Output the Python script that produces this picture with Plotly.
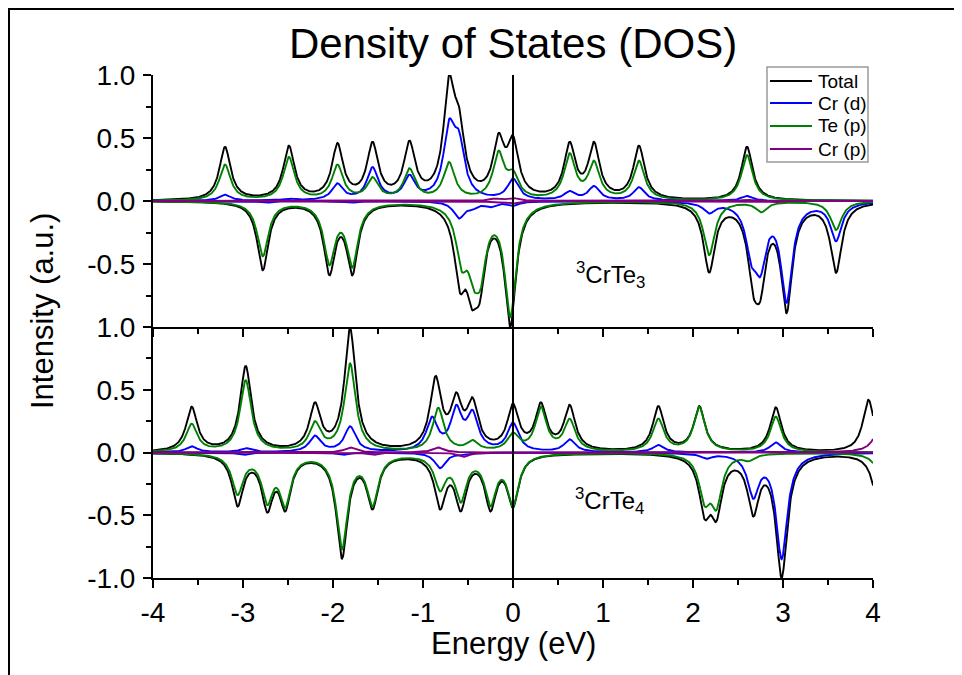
import numpy as np
import plotly.graph_objects as go

# ---------------- data (peak energies in eV, curve values read at the peaks) ----------------
# 3CrTe3 (upper panel)
E3_tot_up = [-3.20, -2.49, -1.95, -1.56, -1.15, -0.71, -0.60, -0.16, 0.00, 0.63, 0.90, 1.40, 2.60]
I3_tot_up = [0.43, 0.44, 0.46, 0.47, 0.48, 1.00, 0.75, 0.54, 0.52, 0.47, 0.47, 0.44, 0.43]
E3_tot_dn = [-2.78, -2.04, -1.785, -0.59, -0.46, -0.37, -0.03, 2.18, 2.67, 2.75, 3.04, 3.59]
I3_tot_dn = [-0.55, -0.59, -0.59, -0.73, -0.86, -0.81, -1.00, -0.57, -0.76, -0.79, -0.89, -0.57]
E3_crd_up = [-3.20, -2.49, -1.95, -1.56, -1.15, -0.71, -0.60, 0.00, 0.63, 0.90, 1.40, 2.60]
I3_crd_up = [0.05, 0.02, 0.14, 0.27, 0.21, 0.65, 0.56, 0.18, 0.08, 0.12, 0.11, 0.04]
E3_crd_dn = [-2.75, -1.80, -0.60, -0.45, -0.25, 0.00, 2.18, 2.65, 2.75, 3.04, 3.59]
I3_crd_dn = [-0.015, -0.015, -0.14, -0.07, -0.05, -0.04, -0.10, -0.52, -0.60, -0.81, -0.32]
E3_tep_up = [-3.20, -2.49, -1.95, -1.56, -1.15, -0.71, -0.16, 0.00, 0.63, 0.90, 1.40, 2.60]
I3_tep_up = [0.29, 0.35, 0.29, 0.19, 0.26, 0.31, 0.40, 0.25, 0.38, 0.32, 0.32, 0.365]
E3_tep_dn = [-2.78, -2.04, -1.785, -0.57, -0.44, -0.36, -0.03, 2.18, 2.76, 3.59]
I3_tep_dn = [-0.44, -0.51, -0.53, -0.56, -0.71, -0.70, -0.92, -0.43, -0.09, -0.23]
E3_crp_up = [-0.20, 0.00, 2.60]
I3_crp_up = [0.02, 0.025, 0.01]
E3_crp_dn = [-0.20, 0.00, 2.90]
I3_crp_dn = [-0.015, -0.02, -0.01]

# 3CrTe4 (lower panel)
E4_tot_up = [-3.57, -2.97, -2.20, -1.81, -0.86, -0.63, -0.45, 0.00, 0.31, 0.63, 1.615, 2.07, 2.92, 3.95]
I4_tot_up = [0.365, 0.69, 0.40, 0.99, 0.61, 0.48, 0.44, 0.39, 0.40, 0.38, 0.37, 0.37, 0.36, 0.42]
E4_tot_dn = [-3.06, -2.73, -2.53, -1.90, -1.56, -0.81, -0.58, -0.25, 0.00, 2.13, 2.26, 2.67, 2.985, 4.08]
I4_tot_dn = [-0.43, -0.48, -0.47, -0.845, -0.455, -0.455, -0.47, -0.47, -0.44, -0.535, -0.55, -0.51, -1.00, -0.55]
E4_crd_up = [-3.57, -2.97, -2.20, -1.81, -0.90, -0.63, -0.45, 0.00, 0.63, 1.615, 2.92]
I4_crd_up = [0.05, 0.035, 0.135, 0.21, 0.286, 0.38, 0.34, 0.24, 0.105, 0.06, 0.08]
E4_crd_dn = [-3.00, -1.90, -0.81, -0.55, 2.15, 2.67, 2.985]
I4_crd_dn = [-0.02, -0.02, -0.125, -0.02, -0.05, -0.37, -0.85]
E4_tep_up = [-3.57, -2.97, -2.20, -1.81, -0.83, -0.45, 0.00, 0.31, 0.63, 1.615, 2.07, 2.92]
I4_tep_up = [0.23, 0.577, 0.25, 0.71, 0.357, 0.10, 0.16, 0.365, 0.27, 0.27, 0.365, 0.286]
E4_tep_dn = [-3.06, -2.73, -2.53, -1.90, -1.56, -0.81, -0.58, -0.25, 0.00, 2.13, 2.26, 2.62, 4.12]
I4_tep_dn = [-0.34, -0.42, -0.44, -0.77, -0.43, -0.31, -0.40, -0.43, -0.43, -0.43, -0.46, -0.07, -0.30]
E4_crp_up = [-1.81, -0.83, 4.10]
I4_crp_up = [0.04, 0.04, 0.30]
E4_crp_dn = [-1.56, -0.55]
I4_crp_dn = [-0.02, -0.035]

series_names = ["Total", "Cr (d)", "Te (p)", "Cr (p)"]
x_tick_vals = [-4, -3, -2, -1, 0, 1, 2, 3, 4]
x_tick_text = ["-4", "-3", "-2", "-1", "0", "1", "2", "3", "4"]
y_tick_vals = [-1.0, -0.5, 0.0, 0.5, 1.0]
y_tick_text = ["-1.0", "-0.5", "0.0", "0.5", "1.0"]
panel_labels = ["<sup>3</sup>CrTe<sub>3</sub>", "<sup>3</sup>CrTe<sub>4</sub>"]

# ---------------- broadening of the read peaks onto an energy grid ----------------
energy = np.linspace(-4.0, 4.0, 1601)
GAMMA = 0.075


def broaden(centers, values, gamma=GAMMA):
    c = np.asarray(centers, float)
    v = np.asarray(values, float)
    K = 1.0 / (1.0 + ((c[:, None] - c[None, :]) / gamma) ** 2)
    t = np.abs(v)
    a = t.copy()
    for _ in range(400):
        for i in range(len(c)):
            a[i] = max(0.0, t[i] - (K[i] @ a - a[i]))
    prof = 1.0 / (1.0 + ((energy[None, :] - c[:, None]) / gamma) ** 2)
    return (np.sign(v)[:, None] * a[:, None] * prof).sum(axis=0)


colors = ["#000000", "#0000FF", "#008000", "#800080"]
FONT = "Arial, 'Liberation Sans', sans-serif"

panels = {
    "top": [(E3_tot_up, I3_tot_up, E3_tot_dn, I3_tot_dn),
            (E3_crd_up, I3_crd_up, E3_crd_dn, I3_crd_dn),
            (E3_tep_up, I3_tep_up, E3_tep_dn, I3_tep_dn),
            (E3_crp_up, I3_crp_up, E3_crp_dn, I3_crp_dn)],
    "bot": [(E4_tot_up, I4_tot_up, E4_tot_dn, I4_tot_dn),
            (E4_crd_up, I4_crd_up, E4_crd_dn, I4_crd_dn),
            (E4_tep_up, I4_tep_up, E4_tep_dn, I4_tep_dn),
            (E4_crp_up, I4_crp_up, E4_crp_dn, I4_crp_dn)],
}

fig = go.Figure()
for key, xa, ya in [("top", "x2", "y2"), ("bot", "x", "y")]:
    for k, (eu, iu, ed, idn) in enumerate(panels[key]):
        for ee, ii in [(eu, iu), (ed, idn)]:
            fig.add_trace(go.Scatter(x=energy, y=broaden(ee, ii), mode="lines",
                                     line=dict(color=colors[k], width=1.9),
                                     name=series_names[k], showlegend=False,
                                     xaxis=xa, yaxis=ya, hoverinfo="skip"))

# ---------------- layout (page pixels; the page body adds an 8px offset) ----------------
OFF = 8
W, H = 962 - OFF, 675 - OFF          # keep the figure inside the window
PLOT_L, PLOT_R, PLOT_T, PLOT_B = 153, 873, 75, 578      # plot area in page pixels
PW, PH = PLOT_R - PLOT_L, PLOT_B - PLOT_T
L, T = PLOT_L - OFF, PLOT_T - OFF
R, B = W - L - PW, H - T - PH


def pxx(px):
    return (px - PLOT_L) / PW


def pxy(py):
    return (PLOT_B - py) / PH


split = pxy(327)

axis_common = dict(showline=True, linewidth=2, linecolor="black", showgrid=False, zeroline=False,
                   ticks="outside", ticklen=8, tickwidth=2, tickcolor="black", mirror=False)
minor_x = dict(tickvals=[-3.5, -2.5, -1.5, -0.5, 0.5, 1.5, 2.5, 3.5],
               ticks="outside", ticklen=5, tickwidth=2, tickcolor="black")
minor_y = dict(tickvals=[-0.75, -0.25, 0.25, 0.75], ticks="outside", ticklen=5, tickwidth=2, tickcolor="black")

fig.update_layout(
    width=W, height=H, margin=dict(l=L, r=R, t=T, b=B),
    plot_bgcolor="white", paper_bgcolor="white",
    font=dict(family=FONT, color="black"),
    showlegend=False,
    xaxis=dict(domain=[0, 1], range=[-4, 4], anchor="y", tickvals=x_tick_vals, ticktext=x_tick_text,
               tickfont=dict(size=28, family=FONT), minor=minor_x, **axis_common),
    xaxis2=dict(domain=[0, 1], range=[-4, 4], anchor="y2", matches="x", tickvals=x_tick_vals,
                showticklabels=False, minor=minor_x, **axis_common),
    yaxis=dict(domain=[0, split], range=[-1, 1], anchor="x", tickvals=y_tick_vals, ticktext=y_tick_text,
               tickfont=dict(size=28, family=FONT), ticklabelstandoff=2, minor=minor_y, **axis_common),
    yaxis2=dict(domain=[split, 1], range=[-1, 1], anchor="x2", tickvals=y_tick_vals[1:],
                ticktext=y_tick_text[1:], tickfont=dict(size=28, family=FONT), ticklabelstandoff=2,
                minor=minor_y, **axis_common),
)

shapes = []
# Fermi level lines
for xr, yr in [("x", "y"), ("x2", "y2")]:
    shapes.append(dict(type="line", xref=xr, yref=yr, x0=0, x1=0, y0=-1, y1=1,
                       line=dict(color="black", width=2)))
# outer frame (top and left edges visible)
shapes.append(dict(type="rect", xref="paper", yref="paper", x0=pxx(9), x1=pxx(1000), y0=pxy(720), y1=pxy(9),
                   line=dict(color="black", width=2), fillcolor="rgba(0,0,0,0)", layer="above"))
# legend box
shapes.append(dict(type="rect", xref="paper", yref="paper", x0=pxx(767), x1=pxx(868), y0=pxy(162), y1=pxy(67),
                   line=dict(color="#9a9a9a", width=1.5), fillcolor="white", layer="above"))
annotations = []
leg_y = [81, 103, 126, 149]
for k in range(4):
    shapes.append(dict(type="line", xref="paper", yref="paper", x0=pxx(770), x1=pxx(812),
                       y0=pxy(leg_y[k]), y1=pxy(leg_y[k]), line=dict(color=colors[k], width=1.9), layer="above"))
    annotations.append(dict(xref="paper", yref="paper", x=pxx(816), y=pxy(leg_y[k]), text=series_names[k],
                            showarrow=False, xanchor="left", yanchor="middle",
                            font=dict(size=19, family=FONT, color="black")))

annotations += [
    dict(xref="paper", yref="paper", x=pxx(513), y=pxy(43), text="Density of States (DOS)", showarrow=False,
         xanchor="center", yanchor="middle", font=dict(size=42, family=FONT, color="black")),
    dict(xref="paper", yref="paper", x=pxx(513), y=pxy(643), text="Energy (eV)", showarrow=False,
         xanchor="center", yanchor="middle", font=dict(size=31, family=FONT, color="black")),
    dict(xref="paper", yref="paper", x=pxx(42), y=pxy(311), text="Intensity (a.u.)", showarrow=False,
         textangle=-90, xanchor="center", yanchor="middle", font=dict(size=31, family=FONT, color="black")),
    dict(xref="x2", yref="y2", x=1.08, y=-0.59, text=panel_labels[0], showarrow=False,
         xanchor="center", yanchor="middle", font=dict(size=24, family=FONT, color="black")),
    dict(xref="x", yref="y", x=1.07, y=-0.39, text=panel_labels[1], showarrow=False,
         xanchor="center", yanchor="middle", font=dict(size=24, family=FONT, color="black")),
]

fig.update_layout(shapes=shapes, annotations=annotations)
fig.write_html("out.html")
